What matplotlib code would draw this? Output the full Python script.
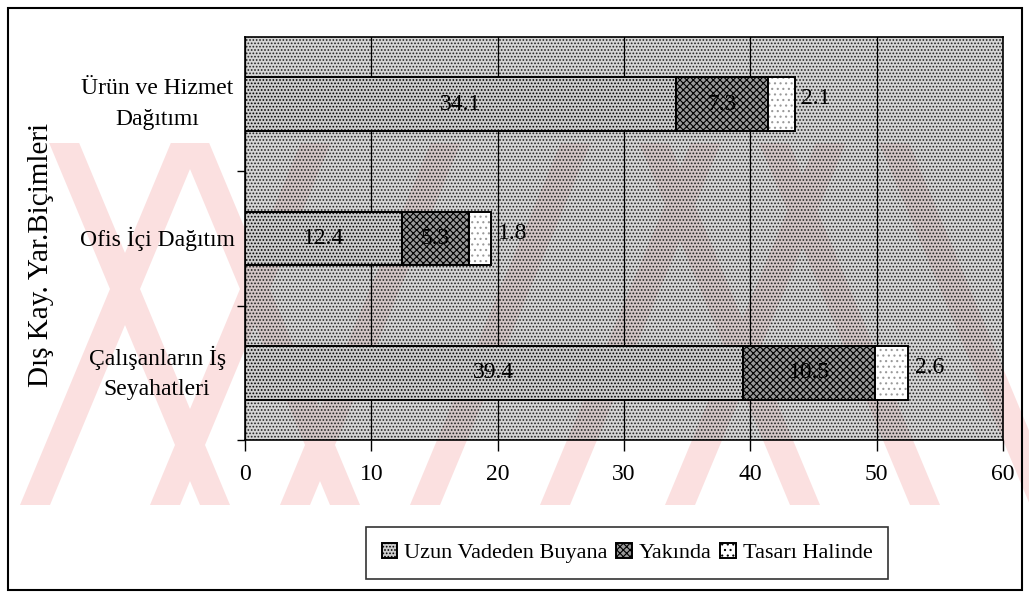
import matplotlib.pyplot as plt
import numpy as np
from matplotlib.patches import Rectangle, Polygon
from matplotlib.transforms import blended_transform_factory

plt.rcParams['font.family'] = ['Liberation Serif', 'DejaVu Serif']
plt.rcParams['hatch.linewidth'] = 0.8

categories = ['Ürün ve Hizmet\nDağıtımı', 'Ofis İçi Dağıtım', 'Çalışanların İş\nSeyahatleri']
series_names = ['Uzun Vadeden Buyana', 'Yakında', 'Tasarı Halinde']
uzun = [34.1, 12.4, 39.4]
yakinda = [7.3, 5.3, 10.5]
tasari = [2.1, 1.8, 2.6]
x_ticks = [0, 10, 20, 30, 40, 50, 60]

W, H = 1029, 597
fig = plt.figure(figsize=(W / 100, H / 100), dpi=100)


def fx(x):
    return x / W


def fy(y):
    return 1 - y / H


# faint pink diagonal bands in the background
pink = '#fbe0e0'
y_top, y_bot = 143, 505
run = (y_bot - y_top) / 2.4
band = 30
for xb in [20, 150, 280, 410, 540, 665]:
    pts = [(xb, y_bot), (xb + band, y_bot), (xb + band + run, y_top), (xb + run, y_top)]
    fig.add_artist(Polygon([(fx(a), fy(b)) for a, b in pts], closed=True,
                           transform=fig.transFigure, facecolor=pink,
                           edgecolor='none', zorder=-2))
for xb in [200, 330, 790, 910, 1030]:
    pts = [(xb, y_bot), (xb + band, y_bot), (xb + band - run, y_top), (xb - run, y_top)]
    fig.add_artist(Polygon([(fx(a), fy(b)) for a, b in pts], closed=True,
                           transform=fig.transFigure, facecolor=pink,
                           edgecolor='none', zorder=-2))

# outer frame
fig.add_artist(Rectangle((fx(8), fy(590)), fx(1014), 582 / H, transform=fig.transFigure,
                         fill=False, edgecolor='black', linewidth=1.5, zorder=5))

ax = fig.add_axes([fx(245), fy(440), fx(758), 403 / H])
ax.set_facecolor('none')

ax.set_xlim(0, 60)
ax.set_ylim(2.5, -0.5)

# stippled plot area
ax.add_patch(Rectangle((0, -0.5), 60, 3, facecolor=(0.68, 0.68, 0.68, 0.5),
                       edgecolor='#222222', linewidth=0, hatch='.....', zorder=0))

y = np.arange(len(categories))
h = 0.4
bars1 = ax.barh(y, uzun, height=h, facecolor='#cdcdcd', edgecolor='black',
                hatch='.....', linewidth=1.4, label=series_names[0], zorder=3)
bars2 = ax.barh(y, yakinda, left=uzun, height=h, facecolor='#999999', edgecolor='black',
                hatch='xxxxx', linewidth=1.4, label=series_names[1], zorder=3)
left3 = [a + b for a, b in zip(uzun, yakinda)]
ax.barh(y, tasari, left=left3, height=h, facecolor='white', edgecolor='#9a9a9a',
        hatch='...', linewidth=0, zorder=3)
bars3 = ax.barh(y, tasari, left=left3, height=h, facecolor='none', edgecolor='black',
                linewidth=1.4, label=series_names[2], zorder=3.5)

for b, v in zip(bars1, uzun):
    ax.text(b.get_x() + b.get_width() / 2, b.get_y() + h / 2, f'{v:.1f}',
            ha='center', va='center', fontsize=17, zorder=4)
for b, v in zip(bars2, yakinda):
    ax.text(b.get_x() + b.get_width() / 2, b.get_y() + h / 2, f'{v:.1f}',
            ha='center', va='center', fontsize=17, zorder=4)
for b, v in zip(bars3, tasari):
    ax.text(b.get_x() + b.get_width() + 0.5, b.get_y() + h / 2 - 0.04, f'{v:.1f}',
            ha='left', va='center', fontsize=17, zorder=4)

ax.set_xticks(x_ticks)
ax.set_xticklabels([str(t) for t in x_ticks], fontsize=17)
ax.tick_params(axis='x', length=8, width=1, pad=9, direction='out')
ax.grid(axis='x', color='black', linewidth=0.9, zorder=1)
ax.set_axisbelow(True)

ax.set_yticks([0.5, 1.5, 2.5])
ax.set_yticklabels([])
ax.tick_params(axis='y', which='major', length=6, width=1)

# category names centred in the left margin
trans = blended_transform_factory(ax.transAxes, ax.transData)
for yi, name in zip(y, categories):
    ax.text(-0.116, yi, name, transform=trans, ha='center', va='center',
            multialignment='center', fontsize=17, linespacing=1.6)

for s in ax.spines.values():
    s.set_linewidth(1.2)

fig.text(fx(41), fy(255), 'Dış Kay. Yar.Biçimleri', rotation=90, ha='center', va='center',
         fontsize=21)

leg = fig.legend(handles=[bars1, bars2, bars3], labels=series_names, loc='center',
                 bbox_to_anchor=(fx(627), fy(553)), ncol=3, fontsize=16, frameon=True,
                 fancybox=False, edgecolor='black', handlelength=0.7, handleheight=0.7,
                 handletextpad=0.3, columnspacing=0.4, borderpad=0.7)
leg.get_frame().set_linewidth(1.2)
# legend swatch for the last series needs the dotted fill too
leg.legend_handles[2].set_hatch('...')

fig.savefig('out.png', dpi=100, facecolor='white')
